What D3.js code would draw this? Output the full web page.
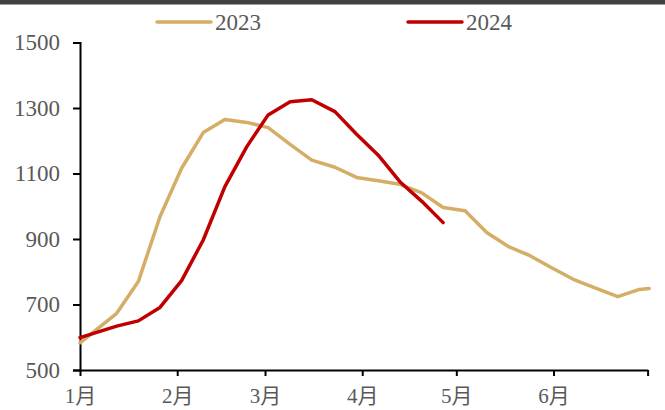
<!DOCTYPE html>
<html>
<head>
<meta charset="utf-8">
<script src="https://cdn.jsdelivr.net/npm/d3@7"></script>
<style>
  html, body { margin: 0; padding: 0; background: #fff; }
  svg { display: block; }
  .tick text { font-family: "Liberation Serif", "Noto Sans CJK SC", serif; fill: #595959; }
</style>
</head>
<body>
<svg id="chart" width="665" height="410"></svg>
<script>
// Sample positions (days since 1 Jan) shared by both years
const sampleDays = [0, 11.7, 18.6, 25.5, 32.4, 39.3, 46.2, 53.2, 60.0, 67.0, 73.9, 81.3,
  88.2, 95.1, 102.0, 109.0, 115.8, 122.8, 129.7, 136.6, 143.5, 150.4, 157.3, 164.2,
  171.5, 178.4, 181.5];

const values2023 = [583, 673, 770, 968, 1116, 1225, 1265, 1256, 1240, 1189, 1141, 1119,
  1088, 1078, 1067, 1041, 996, 986, 920, 877, 849, 812, 777, 751, 724, 746, 749];

const values2024 = [599, 634, 650, 691, 773, 897, 1060, 1182, 1279, 1319, 1325, 1289,
  1220, 1156, 1075, 1015, 950];

const seriesNames = ["2023", "2024"];
const seriesColors = ["#D4AD66", "#C00000"];

// Month axis: start day of each month and its label
const monthStarts = [0, 31, 59, 90, 120, 151, 181];
const monthLabels = ["1月", "2月", "3月", "4月", "5月", "6月", ""];

const yTicks = [500, 700, 900, 1100, 1300, 1500];

const svg = d3.select("#chart");
const W = 665, H = 410;

// top rule
svg.append("rect").attr("x", 0).attr("y", 0).attr("width", W).attr("height", 4.5)
  .attr("fill", "#404040");

const x = d3.scaleLinear().domain([0, 181]).range([80, 647.6]);
const y = d3.scaleLinear().domain([500, 1500]).range([370, 42.5]);

// Y axis
const yAxis = svg.append("g").attr("transform", "translate(80,0)")
  .call(d3.axisLeft(y).tickValues(yTicks).tickSize(7).tickPadding(13).tickFormat(d3.format("d")));
yAxis.select(".domain").attr("stroke", "#000").attr("stroke-width", 2);
yAxis.selectAll(".tick line").attr("stroke", "#000").attr("stroke-width", 2);
yAxis.selectAll(".tick text").attr("font-size", 23);

// X axis
const xAxis = svg.append("g").attr("transform", "translate(0,370)")
  .call(d3.axisBottom(x).tickValues(monthStarts).tickSize(6).tickSizeOuter(0).tickPadding(12)
    .tickFormat((d, i) => monthLabels[i]));
xAxis.select(".domain").attr("stroke", "#000").attr("stroke-width", 2);
xAxis.selectAll(".tick line").attr("stroke", "#000").attr("stroke-width", 2);
xAxis.selectAll(".tick text").attr("font-size", 21);

// Series lines
const line = d3.line().x(d => x(d.day)).y(d => y(d.value));
[values2023, values2024].forEach((vals, i) => {
  const pts = vals.map((v, j) => ({ day: sampleDays[j], value: v }));
  svg.append("path").datum(pts)
    .attr("fill", "none")
    .attr("stroke", seriesColors[i])
    .attr("stroke-width", 3.5)
    .attr("stroke-linejoin", "round")
    .attr("stroke-linecap", "round")
    .attr("d", line);
});

// Legend
const legendX = [157, 408];
seriesNames.forEach((name, i) => {
  const g = svg.append("g").attr("transform", `translate(${legendX[i]},22)`);
  g.append("line").attr("x1", 0).attr("x2", 54).attr("y1", 0).attr("y2", 0)
    .attr("stroke", seriesColors[i]).attr("stroke-width", 3.5).attr("stroke-linecap", "round");
  g.append("text").attr("x", 58).attr("y", 7.5)
    .attr("font-family", "Liberation Serif, serif").attr("font-size", 23)
    .attr("fill", "#595959").text(name);
});
</script>
</body>
</html>
